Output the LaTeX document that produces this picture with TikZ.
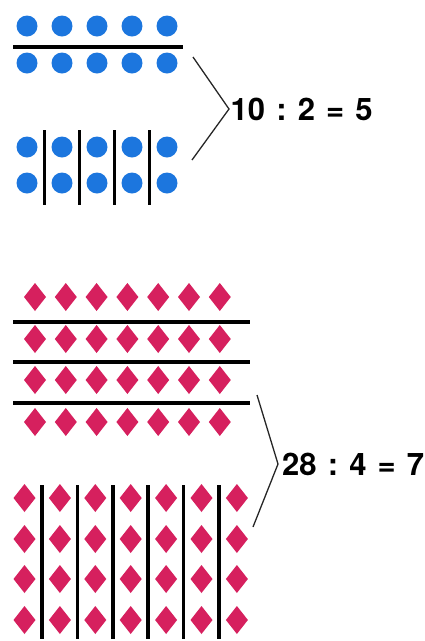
\documentclass[tikz,border=0pt]{standalone}
\usepackage{fontspec}
\setmainfont{TeX Gyre Heros}
\definecolor{dotblue}{RGB}{28,118,222}
\definecolor{rhombpink}{RGB}{214,32,94}
\newcommand{\eqgap}{\hspace{0.36em}}
\tikzset{
  rule/.style={line width=3.6pt, black},
  brace/.style={line width=1.3pt, black!85},
  eqn/.style={anchor=west, inner sep=1.5pt, font=\fontsize{31}{37}\selectfont\bfseries}
}
\begin{document}
\begin{tikzpicture}[x=1pt, y=-1pt]
    \useasboundingbox (0,0) rectangle (425,641);

    % blue dots, split into two rows
    \foreach \i in {0,...,4} {
        \fill[dotblue] (27+35*\i,26) circle (10.5);
        \fill[dotblue] (27+35*\i,63) circle (10.5);
    }
    \draw[rule] (13,47) -- (183,47);

    % blue dots, split into five columns
    \foreach \i in {0,...,4} {
        \fill[dotblue] (27+35*\i,147) circle (10.5);
        \fill[dotblue] (27+35*\i,183) circle (10.5);
    }
    \foreach \i in {0,...,3}
        \draw[rule] (44.5+35*\i,130) -- (44.5+35*\i,205);

    \node[eqn] (eqa) at (229,109) {10\eqgap:\eqgap2\eqgap=\eqgap5};
    \coordinate (eqatop) at (193,57);
    \coordinate (eqabot) at (192,160);
    \draw[brace] (eqatop) -- (eqa.west) -- (eqabot);

    % pink diamonds, split into four rows
    \foreach \y in {297,339,380,422}
        \foreach \i in {0,...,6}
            \fill[rhombpink] (35+30.8*\i,\y-14) -- (46+30.8*\i,\y)
            -- (35+30.8*\i,\y+14) -- (24+30.8*\i,\y) -- cycle;
    \foreach \y in {322,362,403}
        \draw[rule] (13,\y) -- (250,\y);

    % pink diamonds, split into seven columns
    \foreach \y in {498,539,579,620}
        \foreach \i in {0,...,6}
            \fill[rhombpink] (24.5+35.4*\i,\y-14) -- (35.5+35.4*\i,\y)
            -- (24.5+35.4*\i,\y+14) -- (13.5+35.4*\i,\y) -- cycle;
    \foreach \i in {0,...,5}
        \draw[rule] (42+35.4*\i,485) -- (42+35.4*\i,639);

    \node[eqn, inner xsep=4pt] (eqb) at (278,464) {28\eqgap:\eqgap4\eqgap=\eqgap7};
    \coordinate (eqbtop) at (257,395);
    \coordinate (eqbbot) at (253,527);
    \draw[brace] (eqbtop) -- (eqb.west) -- (eqbbot);
\end{tikzpicture}
\end{document}
